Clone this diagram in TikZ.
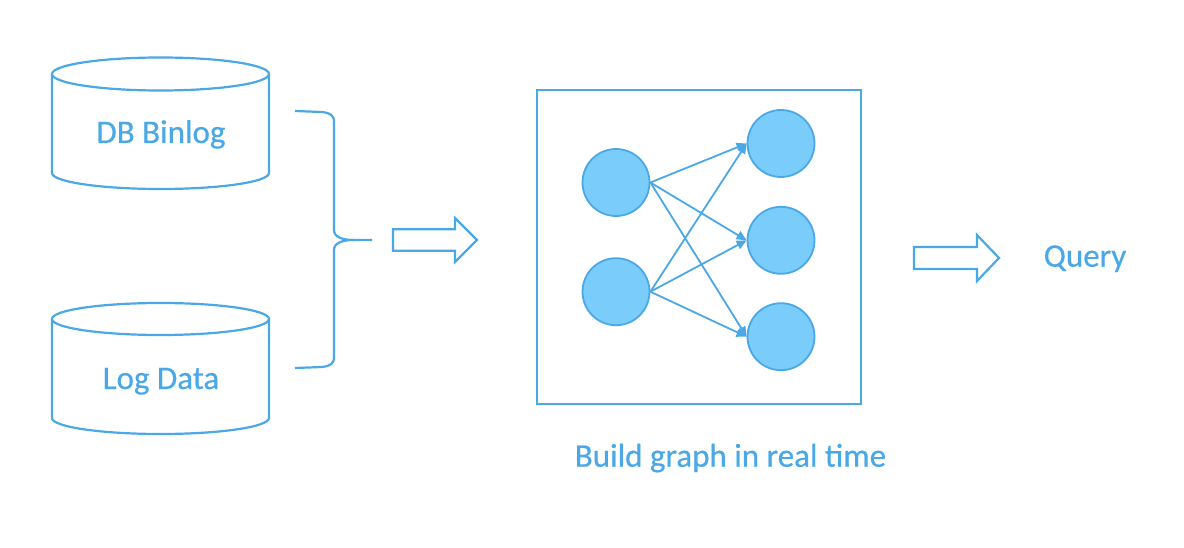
\documentclass[tikz,border=0pt]{standalone}
\usepackage{fontspec}
\setmainfont{Carlito}
\newfontfamily\labelfont{Carlito}[FakeBold=0.4]
\usetikzlibrary{arrows.meta}
\definecolor{lineblue}{RGB}{74,168,230}
\definecolor{nodeblue}{RGB}{122,205,250}

\begin{document}
\begin{tikzpicture}[x=1pt,y=-1pt,
 line/.style ={draw=lineblue, line width=2.2pt},
 txt/.style ={text=lineblue, font=\labelfont\fontsize{33}{40}\selectfont, inner sep=0pt, anchor=base},
 vertex/.style ={circle, draw=lineblue, line width=1.8pt, fill=nodeblue, minimum size=67pt, inner sep=0pt},
 edge/.style ={draw=lineblue, line width=1.8pt, -{Triangle[length=10pt,width=9pt]}},
 hollow/.style ={draw=lineblue, line width=2.2pt, line join=miter}]

\useasboundingbox (0,0) rectangle (1184,548);

% sources
\draw[line] (160.5,74) ellipse [x radius=108.5, y radius=16.5];
\draw[line] (52,74) -- (52,173) arc[start angle=180, end angle=0, x radius=108.5, y radius=16] -- (269,74);
\node[txt] (binlog) at (161,143) {DB Binlog};

\draw[line] (160.5,319) ellipse [x radius=108.5, y radius=16];
\draw[line] (52,319) -- (52,418) arc[start angle=180, end angle=0, x radius=108.5, y radius=16] -- (269,319);
\node[txt] (logdata) at (161,389) {Log Data};

% brace
\coordinate (bracetop) at (295,111);
\coordinate (bracebot) at (295,368);
\coordinate (bracetip) at (372,240);
\draw[line] (bracetop) -- (322,112) .. controls (330,113) and (334,115) .. (334,122) -- (334,230)
 .. controls (334,237) and (342,240) .. (354,240) -- (bracetip);
\draw[line] (bracebot) -- (322,367) .. controls (330,366) and (334,364) .. (334,357) -- (334,250)
 .. controls (334,243) and (342,240) .. (354,240);

\draw[hollow] (393,229.3) -- (455,229.3) -- (455,218) -- (477,240) -- (455,262) -- (455,250.7) -- (393,250.7) -- cycle;

% graph
\node[draw=lineblue, line width=2.2pt, inner sep=0pt, minimum width=324pt, minimum height=314pt] (graphbox) at (699,247) {};

\node[vertex] (l1) at (616,182.5) {};
\node[vertex] (l2) at (616,291.7) {};
\node[vertex] (r1) at (781,143.5) {};
\node[vertex] (r2) at (781,240.3) {};
\node[vertex] (r3) at (781,336.7) {};

\foreach \s in {l1,l2}
 \foreach \t in {r1,r2,r3}
  \draw[edge] (\s.east) -- (\t.west);

\node[txt] (caption) at (730.5,466.7) {Build graph in real time};

% output
\draw[hollow] (914,247) -- (977,247) -- (977,235) -- (999,258) -- (977,281) -- (977,269) -- (914,269) -- cycle;
\node[txt] (query) at (1085,266.7) {Query};

\end{tikzpicture}
\end{document}
